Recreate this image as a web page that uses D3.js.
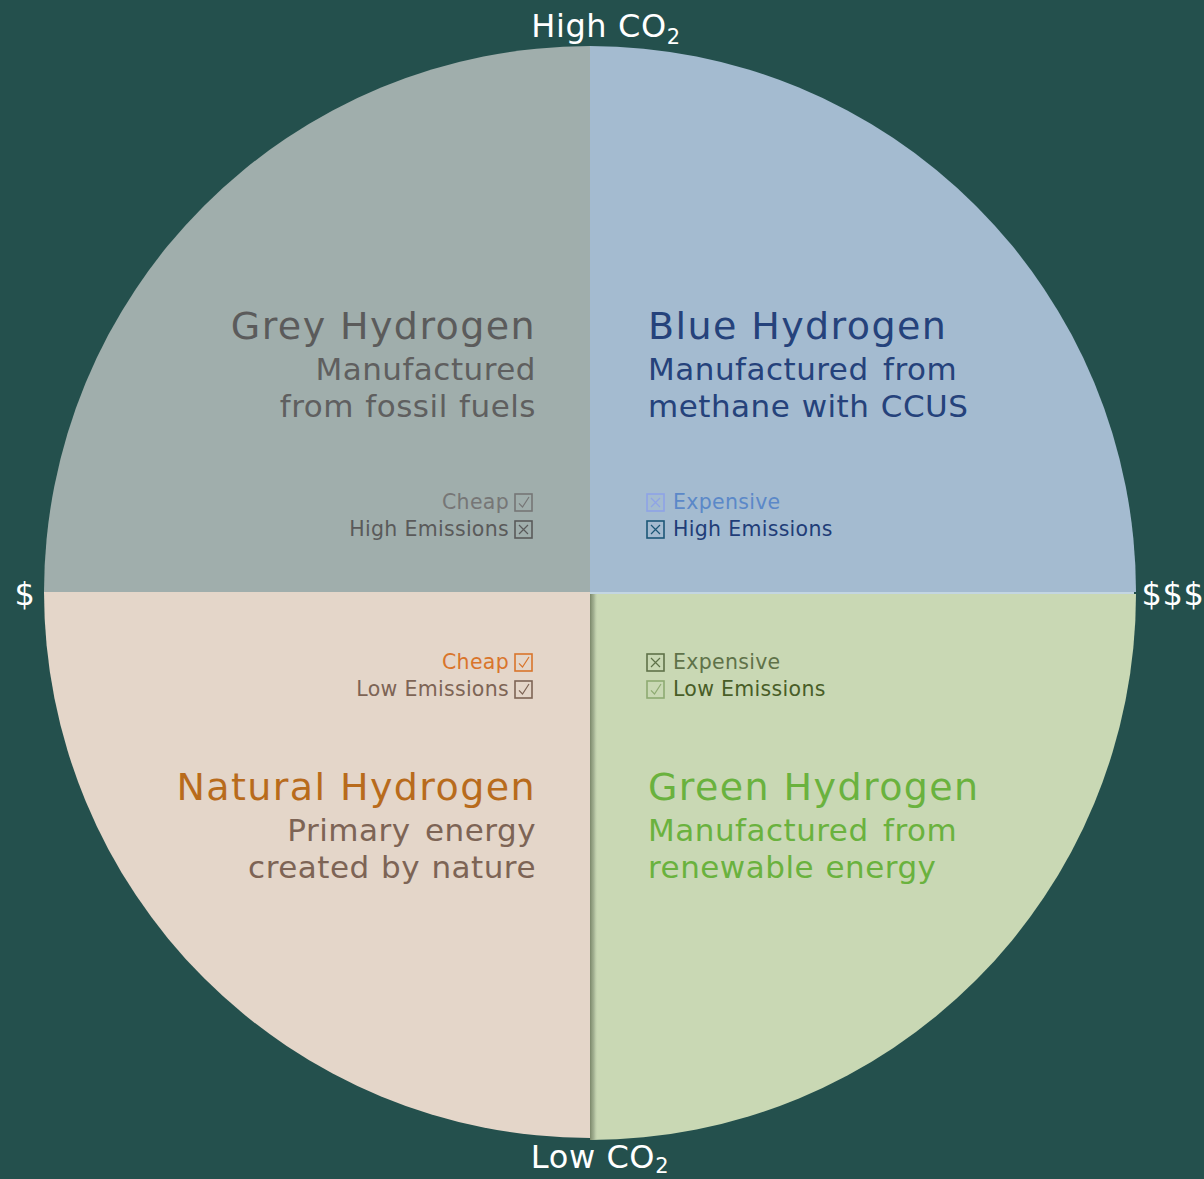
<!DOCTYPE html>
<html>
<head>
<meta charset="utf-8">
<script src="https://cdn.jsdelivr.net/npm/d3@7"></script>
<style>
  body { margin: 0; background: #24504d; }
  svg { display: block; }
  text { font-family: "DejaVu Sans", sans-serif; }
</style>
</head>
<body>
<div id="chart"></div>
<script>
// Quadrant data
const names = ['Grey Hydrogen', 'Blue Hydrogen', 'Green Hydrogen', 'Natural Hydrogen'];
const descriptions = [
  ['Manufactured', 'from fossil fuels'],
  ['Manufactured from', 'methane with CCUS'],
  ['Manufactured from', 'renewable energy'],
  ['Primary energy', 'created by nature']
];
const costLabels = ['Cheap', 'Expensive', 'Expensive', 'Cheap'];
const emissionLabels = ['High Emissions', 'High Emissions', 'Low Emissions', 'Low Emissions'];
const costGood = [true, false, false, true];
const emissionGood = [false, false, true, true];
// quadrant position on the axes: x = cost (-1 cheap, 1 expensive), y = CO2 (1 high, -1 low)
const quadX = [-1, 1, 1, -1];
const quadY = [1, 1, -1, -1];

const axisLabels = { top: 'High CO', bottom: 'Low CO', left: '$', right: '$$$' };

// Styles
const fills = ['#a0aeac', '#a4bbd0', '#c9d8b4', '#e4d6c9'];
const titleColors = ['#5b5b5b', '#25427b', '#6ab23e', '#b86b1c'];
const descColors = ['#5f5f5f', '#25427b', '#6ab23e', '#7d6455'];
const costColors = ['#767676', '#5b88c8', '#5f7249', '#d9752b'];
const costBoxColors = ['#767676', '#8ea3e6', '#5f7249', '#d9752b'];
const emissionColors = ['#5a5a5a', '#1f3d78', '#485d27', '#7d6455'];
const emissionBoxColors = ['#5a5a5a', '#1c5777', '#8eaa72', '#7d6455'];

const W = 1204, H = 1179;
const cx = 590, cy = 592, R = 546;

const svg = d3.select('#chart').append('svg')
  .attr('width', W).attr('height', H);

svg.append('rect').attr('width', W).attr('height', H).attr('fill', '#24504d');

const defs = svg.append('defs');
const grad = defs.append('linearGradient').attr('id', 'edgeShade')
  .attr('x1', 0).attr('x2', 1).attr('y1', 0).attr('y2', 0);
grad.append('stop').attr('offset', 0).attr('stop-color', '#7a8769').attr('stop-opacity', 1);
grad.append('stop').attr('offset', 0.5).attr('stop-color', '#95a386').attr('stop-opacity', 0.7);
grad.append('stop').attr('offset', 1).attr('stop-color', '#c9d8b4').attr('stop-opacity', 0);

const x = d3.scaleLinear().domain([-1, 1]).range([cx - R, cx + R]);
const y = d3.scaleLinear().domain([-1, 1]).range([cy + R, cy - R]);

const arc = d3.arc().innerRadius(0).outerRadius(R);
const startAngles = [-Math.PI / 2, 0, Math.PI / 2, Math.PI];

const g = svg.append('g');
names.forEach((n, i) => {
  const off = i === 2 ? [0, 2] : [0, 0];
  const d = arc({ startAngle: startAngles[i], endAngle: startAngles[i] + Math.PI / 2 });
  g.append('path')
    .attr('transform', `translate(${cx + off[0]},${cy + off[1]})`)
    .attr('d', d)
    .attr('fill', fills[i]);
  if (i === 2) {
    // soft shade along the left edge of the green quadrant
    defs.append('clipPath').attr('id', 'greenClip')
      .append('path').attr('transform', `translate(${cx + off[0]},${cy + off[1]})`).attr('d', d);
    g.append('rect')
      .attr('x', cx).attr('y', cy).attr('width', 8).attr('height', R + 4)
      .attr('fill', 'url(#edgeShade)').attr('clip-path', 'url(#greenClip)');
  }
});
// light seam under the blue quadrant
g.append('line')
  .attr('x1', cx).attr('x2', cx + R - 2)
  .attr('y1', cy + 1).attr('y2', cy + 1)
  .attr('stroke', '#c3d6e2').attr('stroke-width', 2);

// Text blocks
const textX = d3.scaleLinear().domain([-1, 1]).range([cx - 54, cx + 58]);

function checkbox(sel, bx, by, color, good) {
  const s = 17;
  const b = sel.append('g').attr('transform', `translate(${bx},${by - s + 2})`);
  b.append('rect').attr('width', s).attr('height', s)
    .attr('fill', 'none').attr('stroke', color).attr('stroke-width', 1.6);
  if (good) {
    b.append('path').attr('d', `M4,${s * 0.55} L7.5,${s - 4} L${s - 3},3`)
      .attr('fill', 'none').attr('stroke', color).attr('stroke-width', 1.2);
  } else {
    b.append('path').attr('d', `M4,4 L${s - 4},${s - 4} M${s - 4},4 L4,${s - 4}`)
      .attr('fill', 'none').attr('stroke', color).attr('stroke-width', 1.2);
  }
}

names.forEach((n, i) => {
  const left = quadX[i] < 0;
  const tx = textX(quadX[i]);
  const anchor = left ? 'end' : 'start';
  const upper = quadY[i] > 0;
  const titleY = upper ? 339 : 800;
  const checkY = upper ? 509 : 669;

  const tg = svg.append('g').attr('text-anchor', anchor);
  tg.append('text').attr('x', tx).attr('y', titleY)
    .attr('font-size', 38).attr('letter-spacing', 1.4)
    .attr('fill', titleColors[i]).text(n);
  descriptions[i].forEach((d, k) => {
    tg.append('text').attr('x', tx).attr('y', titleY + 41 + k * 37)
      .attr('font-size', 31).attr('letter-spacing', 0.5).attr('word-spacing', k === 0 ? 4 : 1)
      .attr('fill', descColors[i]).text(d);
  });

  const rows = [
    [costLabels[i], costColors[i], costBoxColors[i], costGood[i]],
    [emissionLabels[i], emissionColors[i], emissionBoxColors[i], emissionGood[i]]
  ];
  rows.forEach((r, k) => {
    const ry = checkY + k * 27;
    const labelX = left ? tx - 27 : tx + 25;
    tg.append('text').attr('x', labelX).attr('y', ry)
      .attr('font-size', 20.5).attr('letter-spacing', 0.3)
      .attr('fill', r[1]).text(r[0]);
    checkbox(tg, left ? tx - 21 : tx - 1, ry, r[2], r[3]);
  });
});

// Axis labels
const lab = svg.append('g').attr('fill', '#ffffff').attr('font-size', 32)
  .attr('letter-spacing', 0.6).attr('text-anchor', 'middle');
const topLabel = lab.append('text').attr('x', x(0) + 16).attr('y', 37);
topLabel.append('tspan').text(axisLabels.top);
topLabel.append('tspan').attr('font-size', 21).attr('dy', 7).text('2');
const botLabel = lab.append('text').attr('x', x(0) + 10).attr('y', 1168);
botLabel.append('tspan').text(axisLabels.bottom);
botLabel.append('tspan').attr('font-size', 21).attr('dy', 5).text('2');
lab.append('text').attr('x', x(-1) - 19).attr('y', 605).text(axisLabels.left);
lab.append('text').attr('x', x(1) + 37).attr('y', 605).text(axisLabels.right);
</script>
</body>
</html>
